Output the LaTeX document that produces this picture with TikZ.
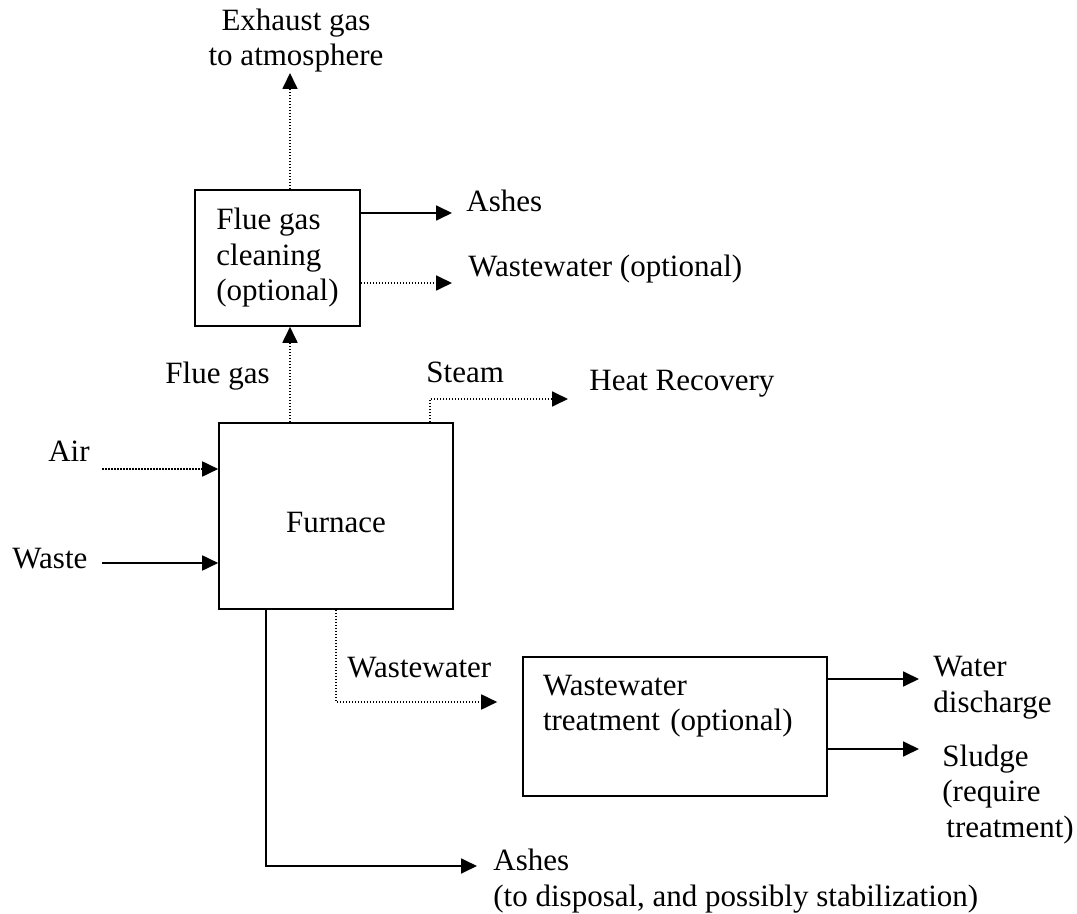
\documentclass[tikz,border=0pt]{standalone}
\usepackage{fontspec}
\setmainfont{Liberation Serif}
\usetikzlibrary{arrows.meta,positioning}

\begin{document}
\begin{tikzpicture}[x=0.5pt, y=-0.5pt,
      every node/.style={font=\fontsize{15.5pt}{17.75pt}\selectfont},
      unit/.style={draw, line width=0.8pt, inner sep=0pt},
      lbl/.style={inner sep=0pt, align=left},
      flow/.style={line width=0.9pt, -{Triangle[length=8pt,width=7.5pt]}},
      opt/.style={flow, dash pattern=on 0.8pt off 0.7pt}
  ]
    \useasboundingbox (0,0) rectangle (1077,914);
    \node[unit, align=left, minimum width=82.5pt, minimum height=68pt] (clean) at (277.5,258)
          {Flue gas\\cleaning\\(optional)};
    \node[unit, minimum width=117pt, minimum height=93pt, text height=17pt] (furnace) at (336,516) {Furnace};
    \node[unit, align=left, minimum width=152pt, minimum height=69.5pt, text width=132pt, inner xsep=10pt]
          (wwt) at (675,726.5) {Wastewater\\treatment (optional)\\[6pt]\mbox{}};

    % base of a multi-line label is its last line
    \node[lbl, anchor=base, align=center] (exhaust) at (296,66) {Exhaust gas\\to atmosphere};
    \node[lbl, anchor=base west] (ashtop) at (466,212) {Ashes};
    \node[lbl, anchor=base west] (wwopt) at (468,277) {Wastewater (optional)};
    \node[lbl, anchor=base west] (fluegas) at (165,384) {Flue gas};
    \node[lbl, anchor=base west] (steam) at (426,383) {Steam};
    \node[lbl, anchor=base west] (heat) at (589,391) {Heat Recovery};
    \node[lbl, anchor=base east] (air) at (90,462) {Air};
    \node[lbl, anchor=base west] (waste) at (12,568) {Waste};
    \node[lbl, anchor=base west] (wwlbl) at (347,677) {Wastewater};
    \node[lbl, anchor=base west] (water) at (933,712) {Water\\discharge};
    \node[lbl, anchor=base west] (sludge) at (942,837) {Sludge\\(require\\\hspace*{2pt}treatment)};
    \node[lbl, anchor=base west] (ashbot) at (493,906) {Ashes\\(to disposal, and possibly stabilization)};

    \coordinate (exhtip) at (290,73);
    \coordinate (ashtip) at (452,213);
    \coordinate (wwotip) at (452,283);
    \coordinate (steamx) at (430,399);
    \coordinate (steamtip) at (568,399);
    \coordinate (airtail) at (102,469);
    \coordinate (wastetail) at (102,563);
    \coordinate (wwx) at (336,702);
    \coordinate (ashx) at (266,866);
    \coordinate (ashbtip) at (477,866);
    \coordinate (wdtip) at (919,679);
    \coordinate (sltip) at (919,749);

    \draw[opt] (clean.north -| exhtip) -- (exhtip);
    \draw[flow] (clean.east |- ashtip) -- (ashtip);
    \draw[opt] (clean.east |- wwotip) -- (wwotip);
    \draw[opt] (furnace.north -| exhtip) -- (clean.south -| exhtip);
    \draw[opt] (furnace.north -| steamx) |- (steamtip);
    \draw[opt] (airtail) -- (furnace.west |- airtail);
    \draw[flow] (wastetail) -- (furnace.west |- wastetail);
    \draw[opt, shorten >=12.5pt] (furnace.south -| wwx) |- (wwt.west |- wwx);
    \draw[flow] (furnace.south -| ashx) |- (ashbtip);
    \draw[flow] (wwt.east |- wdtip) -- (wdtip);
    \draw[flow] (wwt.east |- sltip) -- (sltip);
  \end{tikzpicture}
\end{document}
